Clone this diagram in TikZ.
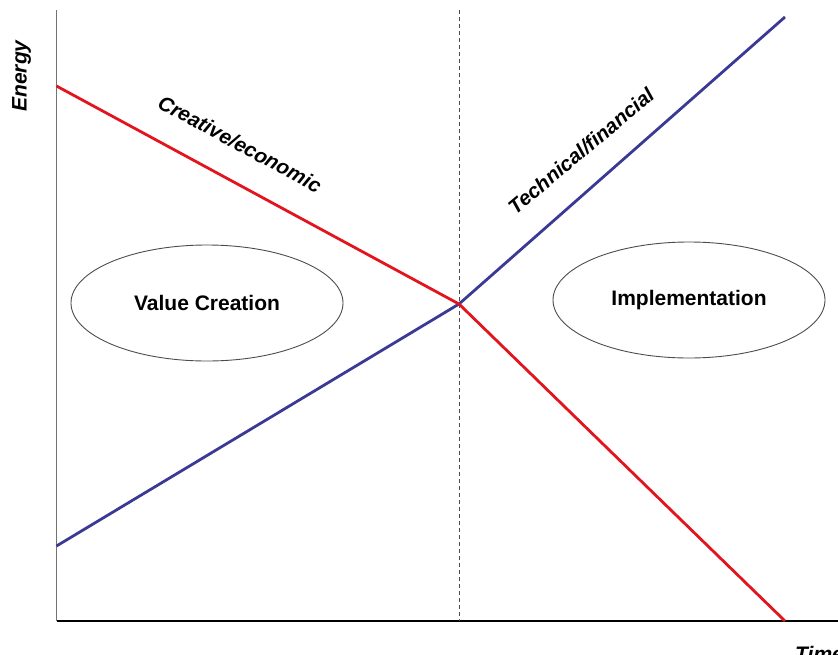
\documentclass[tikz,border=0pt]{standalone}
\usepackage{fontspec}
\setmainfont{Liberation Sans}
\usepackage{tikz}
\usetikzlibrary{shapes.geometric}

\begin{document}
\begin{tikzpicture}[x=1pt,y=-1pt,
  axis/.style={line width=1.4pt},
  creative/.style={line width=2.8pt,color={rgb,255:red,226;green,20;blue,30}},
  technical/.style={line width=2.8pt,color={rgb,255:red,58;green,58;blue,150}},
  phase/.style={draw=black!70,ellipse,line width=0.9pt,minimum width=272pt,minimum height=116pt,
    font=\fontsize{21}{24}\selectfont\bfseries},
  axlabel/.style={inner sep=0pt,font=\fontsize{21}{24}\selectfont\bfseries\itshape},
  linelabel/.style={inner sep=0pt,font=\fontsize{20.5}{24}\selectfont\bfseries\itshape}]
\useasboundingbox (0,0) rectangle (838,654);
\coordinate (top) at (56.5,10);
\coordinate (origin) at (56.5,621);
\coordinate (right) at (838,621);
\coordinate (split) at (459,10);
\coordinate (splitbase) at (459,621);
\coordinate (cross) at (459,304);
\coordinate (c0) at (56.5,86);
\coordinate (c1) at (785,621);
\coordinate (t0) at (56.5,546);
\coordinate (t1) at (785,17);
\draw[axis,black!55] (top) -- (origin);
\draw[axis] (origin) -- (right);
\draw[black!70,line width=0.8pt,dash pattern=on 4pt off 3pt] (split) -- (splitbase);
\draw[technical,line join=round] (t0) -- (cross) -- (t1);
\draw[creative,line join=round] (c0) -- (cross) -- (c1);
\node[phase] (value) at (207,303) {Value Creation};
\node[phase] (impl) at (689,300) {Implementation};
\node[axlabel,rotate=90] (energy) at (21.5,76) {Energy};
\node[axlabel,anchor=north west] (time) at (795,646) {Time};
\node[linelabel,rotate=-28.4] (crelbl) at (240,144) {Creative/economic};
\node[linelabel,rotate=40] (teclbl) at (581,151) {Technical/financial};
\end{tikzpicture}
\end{document}
